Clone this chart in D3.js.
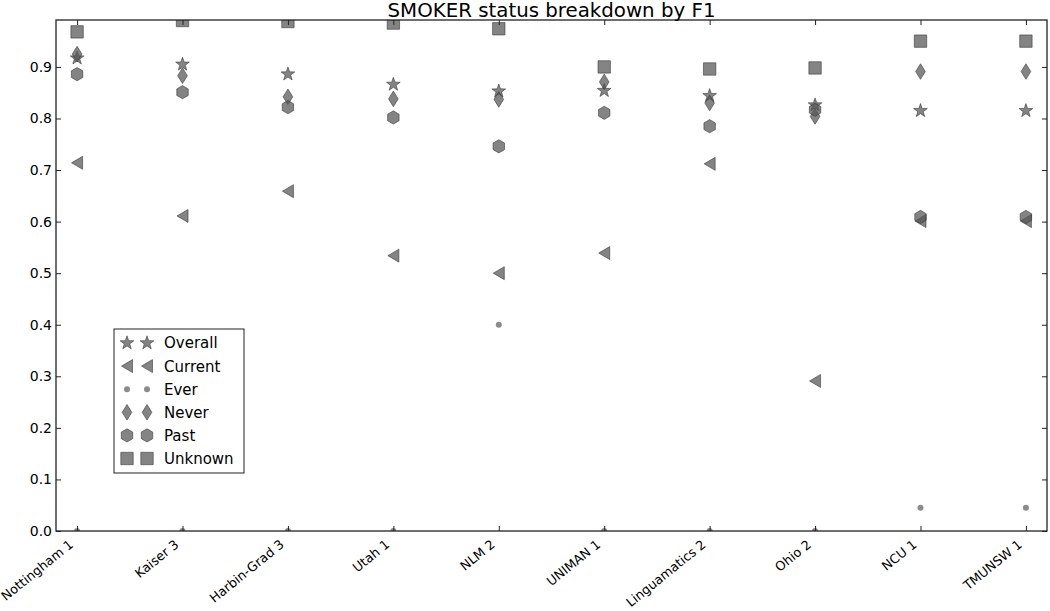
<!DOCTYPE html>
<html>
<head>
<meta charset="utf-8">
<script src="https://cdn.jsdelivr.net/npm/d3@7"></script>
<style>
  body { margin: 0; background: #fff; }
  svg { display: block; font-family: "DejaVu Sans", sans-serif; }
</style>
</head>
<body>
<svg id="chart" width="1050" height="611"></svg>
<script>
// ---------------- data ----------------
const categories = ["Nottingham 1", "Kaiser 3", "Harbin-Grad 3", "Utah 1", "NLM 2",
                    "UNIMAN 1", "Linguamatics 2", "Ohio 2", "NCU 1", "TMUNSW 1"];
const overall = [0.917, 0.905, 0.886, 0.866, 0.853, 0.854, 0.844, 0.826, 0.815, 0.815];
const current = [0.714, 0.611, 0.659, 0.534, 0.500, 0.539, 0.712, 0.291, 0.601, 0.601];
const ever    = [0.000, 0.000, 0.000, 0.000, 0.400, 0.000, 0.000, 0.000, 0.045, 0.045];
const never   = [0.925, 0.883, 0.842, 0.838, 0.837, 0.871, 0.830, 0.804, 0.891, 0.891];
const past    = [0.886, 0.851, 0.822, 0.802, 0.746, 0.811, 0.785, 0.817, 0.609, 0.609];
const unknown = [0.968, 0.990, 0.988, 0.985, 0.974, 0.900, 0.896, 0.898, 0.950, 0.950];
const seriesNames = ["Overall", "Current", "Ever", "Never", "Past", "Unknown"];
const yTicks = [0.0, 0.1, 0.2, 0.3, 0.4, 0.5, 0.6, 0.7, 0.8, 0.9];
const title = "SMOKER status breakdown by F1";

// ---------------- layout ----------------
const W = 1050, H = 611;
const M = { left: 56, right: 3, top: 20, bottom: 80 };
const x0 = M.left, x1 = W - M.right, y0 = M.top, y1 = H - M.bottom;

const svg = d3.select("#chart");

const x = d3.scalePoint().domain(categories).range([x0, x1]).padding(0.2);
const y = d3.scaleLinear().domain([0, 0.991]).range([y1, y0]);

// ---------------- marker shapes ----------------
function starPath(r) {
  const ri = r * 0.4, pts = [];
  for (let i = 0; i < 10; i++) {
    const a = -Math.PI / 2 + i * Math.PI / 5, rr = i % 2 ? ri : r;
    pts.push([rr * Math.cos(a), rr * Math.sin(a)]);
  }
  return "M" + pts.map(p => p.join(",")).join("L") + "Z";
}
function triLeftPath(r) {
  return `M${-r * 0.85},0L${r * 0.85},${-r}L${r * 0.85},${r}Z`;
}
function diamondPath(r) {
  const w = r * 0.62;
  return `M0,${-r}L${w},0L0,${r}L${-w},0Z`;
}
function hexPath(r) {
  const pts = [];
  for (let i = 0; i < 6; i++) {
    const a = -Math.PI / 2 + i * Math.PI / 3;
    pts.push([r * Math.cos(a), r * Math.sin(a)]);
  }
  return "M" + pts.map(p => p.join(",")).join("L") + "Z";
}
function squarePath(r) {
  return `M${-r},${-r}H${r}V${r}H${-r}Z`;
}
function circlePath(r) {
  return d3.arc()({ innerRadius: 0, outerRadius: r, startAngle: 0, endAngle: 2 * Math.PI });
}

const series = [
  { name: seriesNames[0], values: overall, path: starPath(7.2),   edge: true },
  { name: seriesNames[1], values: current, path: triLeftPath(6.5), edge: true },
  { name: seriesNames[2], values: ever,    path: circlePath(3),   edge: false },
  { name: seriesNames[3], values: never,   path: diamondPath(7.8), edge: true },
  { name: seriesNames[4], values: past,    path: hexPath(6.6),    edge: true },
  { name: seriesNames[5], values: unknown, path: squarePath(6.2), edge: true }
];

function styleMarker(sel, s) {
  sel.attr("d", s.path)
    .attr("fill", s.edge ? "#555" : "#777")
    .attr("fill-opacity", s.edge ? 0.72 : 0.85)
    .attr("stroke", s.edge ? "#333" : "none")
    .attr("stroke-opacity", 0.7)
    .attr("stroke-width", 0.8);
}

// ---------------- clip ----------------
svg.append("defs").append("clipPath").attr("id", "plotclip")
  .append("rect").attr("x", x0).attr("y", y0).attr("width", x1 - x0).attr("height", y1 - y0);

// ---------------- markers ----------------
const plot = svg.append("g").attr("clip-path", "url(#plotclip)");
series.forEach(s => {
  plot.append("g").selectAll("path")
    .data(categories.map((c, i) => ({ c, v: s.values[i] })))
    .join("path")
    .attr("transform", d => `translate(${x(d.c)},${y(d.v)})`)
    .call(sel => styleMarker(sel, s));
});

// ---------------- axes ----------------
const tickColor = "#222";
const gx = svg.append("g").attr("transform", `translate(0,${y1})`)
  .call(d3.axisBottom(x).tickSizeInner(-5).tickSizeOuter(0).tickFormat(() => ""));
gx.select(".domain").remove();
gx.selectAll(".tick line").attr("stroke", tickColor);
const gxt = svg.append("g").attr("transform", `translate(0,${y0})`)
  .call(d3.axisTop(x).tickSizeInner(-5).tickSizeOuter(0).tickFormat(() => ""));
gxt.select(".domain").remove();
gxt.selectAll(".tick line").attr("stroke", tickColor);
// rotated x labels
svg.append("g").selectAll("text")
  .data(categories)
  .join("text")
  .attr("transform", d => `translate(${x(d) - 3},${y1 + 15}) rotate(-39)`)
  .attr("text-anchor", "end")
  .attr("font-size", 12.8)
  .attr("fill", "#000")
  .text(d => d);

// left axis
const gy = svg.append("g").attr("transform", `translate(${x0},0)`)
  .call(d3.axisLeft(y).tickValues(yTicks).tickSizeInner(-5).tickSizeOuter(0)
    .tickFormat(d3.format(".1f")));
gy.select(".domain").remove();
gy.selectAll(".tick line").attr("stroke", tickColor);
gy.selectAll(".tick text").attr("font-size", 14).attr("fill", "#000")
  .attr("font-family", "DejaVu Sans, sans-serif").attr("x", -4);
const gyr = svg.append("g").attr("transform", `translate(${x1},0)`)
  .call(d3.axisRight(y).tickValues(yTicks).tickSizeInner(-5).tickSizeOuter(0).tickFormat(() => ""));
gyr.select(".domain").remove();
gyr.selectAll(".tick line").attr("stroke", tickColor);

// frame
svg.append("rect")
  .attr("x", x0).attr("y", y0).attr("width", x1 - x0).attr("height", y1 - y0)
  .attr("fill", "none").attr("stroke", "#222").attr("stroke-width", 1.3);

// title
svg.append("text")
  .attr("x", (x0 + x1) / 2).attr("y", 16.5)
  .attr("text-anchor", "middle")
  .attr("font-size", 19.8)
  .attr("fill", "#000")
  .text(title);

// ---------------- legend ----------------
const lg = svg.append("g").attr("transform", "translate(114,329)");
lg.append("rect").attr("x", 0).attr("y", 0).attr("width", 130).attr("height", 144)
  .attr("fill", "#fff").attr("stroke", "#222").attr("stroke-width", 1);
series.forEach((s, i) => {
  const yy = 14 + i * 23.1;
  [13, 33].forEach(xx => {
    lg.append("path").attr("transform", `translate(${xx},${yy})`).call(sel => styleMarker(sel, s));
  });
  lg.append("text").attr("x", 50).attr("y", yy).attr("dy", "0.36em")
    .attr("font-size", 15).attr("fill", "#000").text(s.name);
});
</script>
</body>
</html>
